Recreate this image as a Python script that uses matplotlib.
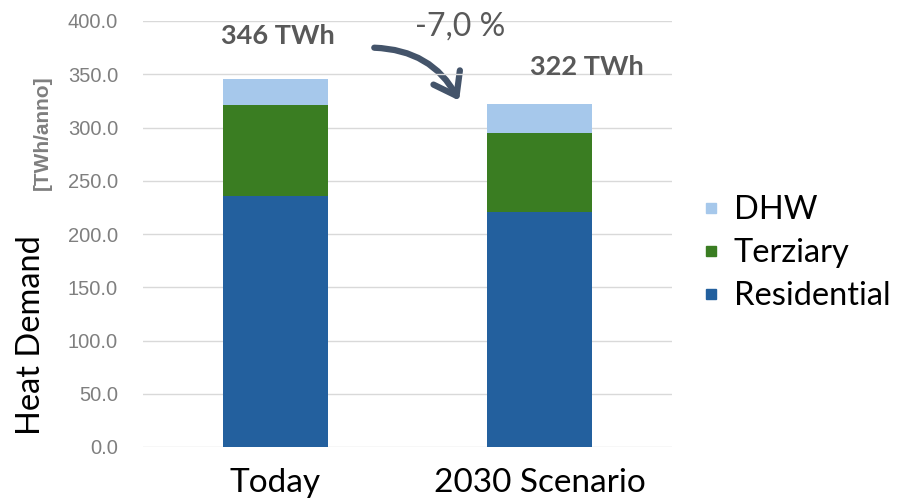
import numpy as np
import matplotlib.pyplot as plt
from matplotlib.patches import FancyArrowPatch
from matplotlib.lines import Line2D

categories = ["Today", "2030 Scenario"]
residential = [236, 221]
terziary = [85, 74]
dhw = [25, 27]
totals = [346, 322]
change_label = "-7,0 %"

col_res = "#23609e"
col_ter = "#3a7d22"
col_dhw = "#a6c8eb"

fig = plt.figure(figsize=(9.05, 5.0), dpi=100)
ax = fig.add_axes([0.158, 0.106, 0.5845, 0.852])

x = np.arange(len(categories))
w = 0.396
ax.bar(x, residential, w, color=col_res, zorder=2)
ax.bar(x, terziary, w, bottom=residential, color=col_ter, zorder=2)
ax.bar(x, dhw, w, bottom=np.add(residential, terziary), color=col_dhw, zorder=2)

ax.set_xlim(-0.5, 1.5)
ax.set_ylim(0, 400)
yt = np.arange(0, 401, 50)
ax.set_yticks(yt)
ax.set_yticklabels([f"{v:.1f}" for v in yt],
                   fontfamily="Liberation Sans", fontsize=14.5, color="#7f7f7f")
ax.set_xticks(x)
ax.set_xticklabels(categories, fontfamily="Lato", fontsize=24, color="black")
ax.tick_params(axis="both", length=0)
ax.tick_params(axis="x", pad=15)
ax.tick_params(axis="y", pad=18)
ax.grid(axis="y", color="#d9d9d9", lw=1, zorder=0)
for s in ax.spines.values():
    s.set_visible(False)

# axis titles
fig.text(0.047, 0.734, "[TWh/anno]", rotation=90, ha="center", va="center",
         fontfamily="Liberation Sans", fontweight="bold", fontsize=15, color="#7f7f7f")
fig.text(0.034, 0.33, "Heat Demand", rotation=90, ha="center", va="center",
         fontfamily="Lato", fontsize=23.5, color="black")

# totals and change
ax.text(0.01, 386, f"{totals[0]} TWh", ha="center", va="center",
        fontfamily="Lato", fontweight="bold", fontsize=19.5, color="#595959")
ax.text(1.18, 357, f"{totals[1]} TWh", ha="center", va="center",
        fontfamily="Lato", fontweight="bold", fontsize=19.5, color="#595959")
ax.text(0.70, 395, change_label, ha="center", va="center",
        fontfamily="Lato", fontsize=23, color="#595959")
arrow = FancyArrowPatch((0.364, 375), (0.70, 323), connectionstyle="arc3,rad=-0.3",
                        arrowstyle="->,head_length=0.25,head_width=0.18",
                        mutation_scale=60, color="#44546a", lw=4.5,
                        capstyle="round", clip_on=False)
ax.add_patch(arrow)

handles = [Line2D([], [], ls="", marker="s", ms=6.5, color=c)
           for c in (col_dhw, col_ter, col_res)]
fig.legend(handles, ["DHW", "Terziary", "Residential"], loc="center left",
           bbox_to_anchor=(0.771, 0.494), frameon=False, handlelength=0.8,
           handletextpad=0.3, labelspacing=0.4, borderpad=0, borderaxespad=0,
           prop={"family": "Lato", "size": 23.5})

fig.savefig("out.png", dpi=100)
